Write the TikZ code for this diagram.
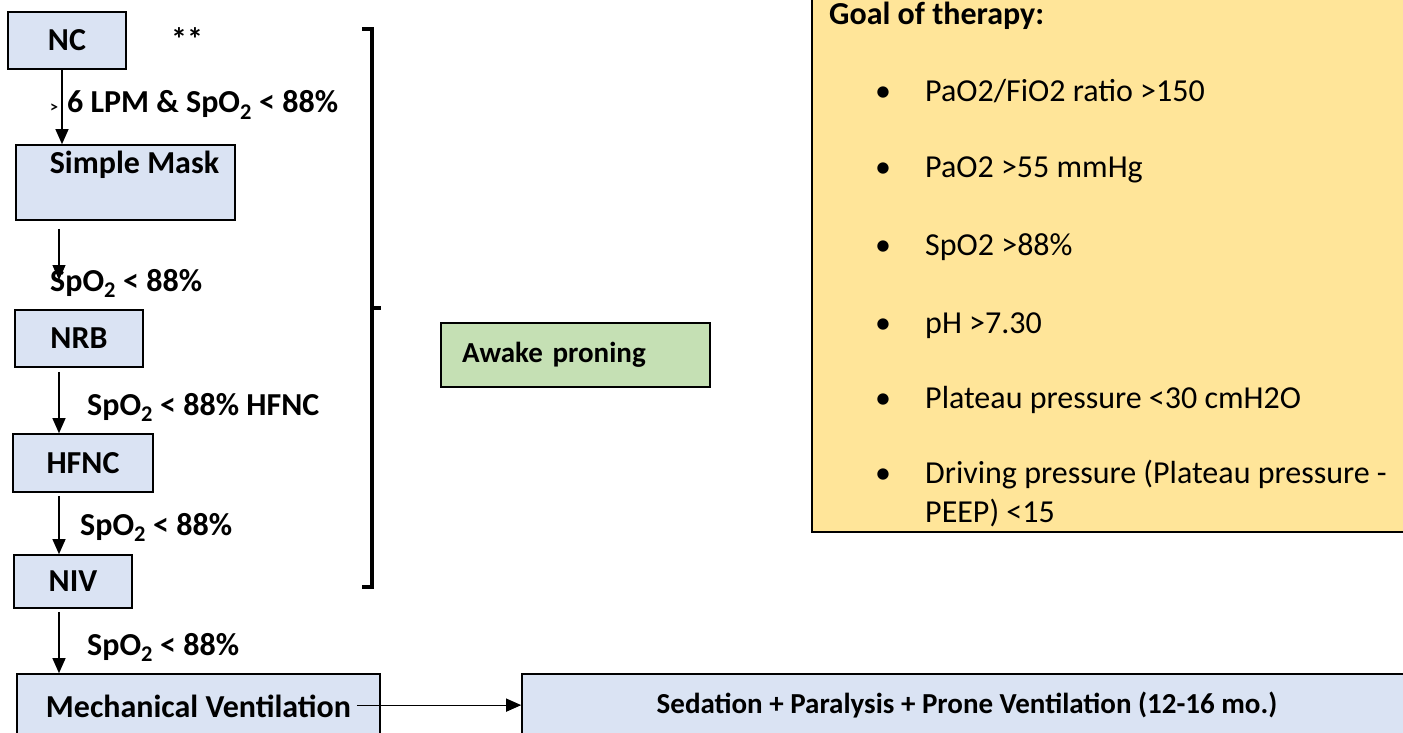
\documentclass[tikz,border=0pt]{standalone}
\usepackage{fontspec}
\setmainfont{Carlito}
\usetikzlibrary{arrows.meta,positioning,calc}

\definecolor{boxblue}{HTML}{DAE3F3}
\definecolor{boxgreen}{HTML}{C5E0B4}
\definecolor{boxyellow}{HTML}{FFE599}

\begin{document}
\begin{tikzpicture}[
  x=1pt, y=-1pt,
  box/.style={draw, line width=1.6pt, fill=boxblue, inner sep=0pt,
              font=\fontsize{32}{38}\selectfont\bfseries},
  cond/.style={anchor=base west, inner sep=0pt, font=\fontsize{32}{38}\selectfont\bfseries},
  item/.style={anchor=base west, inner sep=0pt, font=\fontsize{32}{38}\selectfont},
  dot/.style={anchor=base, inner sep=0pt, font=\fontsize{32}{38}\selectfont},
  arrow/.style={-{Triangle[length=15pt,width=13pt]}, line width=1.2pt}
]
\clip (0,0) rectangle (1403,733);
\fill[white] (0,0) rectangle (1403,733);

% oxygen escalation ladder
\node[box, minimum width=118pt, minimum height=57pt] (nc) at (67,40.5) {NC};
\node[anchor=base, inner sep=0pt, font=\fontsize{32}{38}\selectfont\bfseries] (stars) at (187,51) {**};
\node[box, minimum width=219pt, text height=28pt, text depth=47pt] (mask) at (125.5,182.5) {\hspace{18pt}Simple Mask};
\node[box, minimum width=128pt, minimum height=57pt] (nrb) at (79,338.5) {NRB};
\node[box, minimum width=140pt, minimum height=58pt] (hfnc) at (83,463) {HFNC};
\node[box, minimum width=118pt, minimum height=53pt] (niv) at (73,581.5) {NIV};
\node[box, minimum width=363pt, text height=43pt, text depth=43pt] (mv) at (198.5,717) {Mechanical Ventilation};
\node[box, minimum width=890pt, text height=39pt, text depth=47pt,
      font=\fontsize{29}{35}\selectfont\bfseries] (sedation) at (967,717)
      {Sedation + Paralysis + Prone Ventilation (12-16 mo.)};

% conditions between the steps
\node[cond] (lbl1) at (50,113) {{\fontsize{16}{16}\selectfont >}\hspace{9pt}6 LPM \& SpO\textsubscript{2} < 88\%};
\node[cond] (lbl2) at (50,291) {SpO\textsubscript{2} < 88\%};
\node[cond] (lbl3) at (87,415) {SpO\textsubscript{2} < 88\% HFNC};
\node[cond] (lbl4) at (80,535) {SpO\textsubscript{2} < 88\%};
\node[cond] (lbl5) at (87,655) {SpO\textsubscript{2} < 88\%};

\coordinate (tip2) at (59,280);
\draw[arrow] ([xshift=-5pt]nc.south) -- ([xshift=-5pt]nc.south |- mask.north);
\draw[arrow] ($(tip2 |- mask.south)+(0,8)$) -- (tip2);
\draw[arrow] ([xshift=-20pt,yshift=-4pt]nrb.south) -- ([xshift=-20pt]nrb.south |- hfnc.north);
\draw[arrow] ([xshift=-24pt,yshift=-3pt]hfnc.south) -- ([xshift=-24pt]hfnc.south |- niv.north);
\draw[arrow] ([xshift=-14pt,yshift=-3pt]niv.south) -- ([xshift=-14pt]niv.south |- mv.north);
\draw[arrow] ([xshift=-24pt,yshift=9.5pt]mv.mid east) -- ([yshift=9.5pt]mv.mid east -| sedation.west);

% bracket and awake proning
\draw[line width=3.2pt] (362,29) -- (372,29) -- (372,587) -- (362,587);
\draw[line width=3.2pt] (372,308) -- (381,308);
\node[draw, line width=1.2pt, fill=boxgreen, text width=227pt, align=left,
      inner xsep=21pt, minimum height=64pt,
      font=\fontsize{29}{35}\selectfont\bfseries] (proning) at (575.5,355) {Awake proning};

% goals
\node[draw, line width=1.6pt, fill=boxyellow, minimum width=608pt, minimum height=552pt] (goal) at (1116,256) {};
\node[cond] (goaltitle) at (829,25) {Goal of therapy:};
\node[dot] (d1) at (883,102) {\textbullet};
\node[item] (g1) at (925,102) {PaO2/FiO2 ratio >150};
\node[dot] (d2) at (883,178) {\textbullet};
\node[item] (g2) at (925,178) {PaO2 >55 mmHg};
\node[dot] (d3) at (883,255) {\textbullet};
\node[item] (g3) at (925,255) {SpO2 >88\%};
\node[dot] (d4) at (883,333) {\textbullet};
\node[item] (g4) at (925,333) {pH >7.30};
\node[dot] (d5) at (883,408) {\textbullet};
\node[item] (g5) at (925,408) {Plateau pressure <30 cmH2O};
\node[dot] (d6) at (883,483) {\textbullet};
\node[item] (g6) at (925,483) {Driving pressure (Plateau pressure -};
\node[item] (g6b) at (925,522) {PEEP) <15};
\end{tikzpicture}
\end{document}
